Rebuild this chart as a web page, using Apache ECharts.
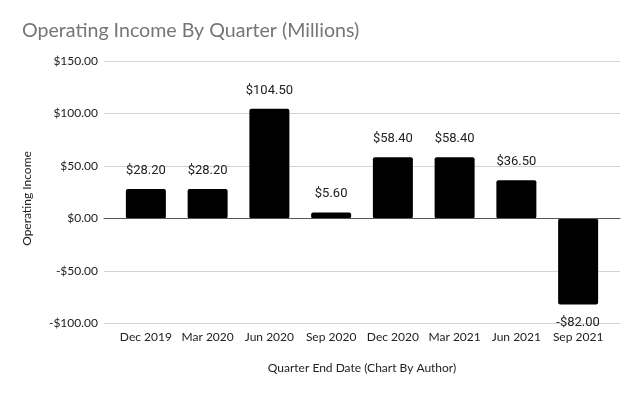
<!DOCTYPE html>
<html>
<head>
<meta charset="utf-8">
<script src="https://cdn.jsdelivr.net/npm/echarts@6/dist/echarts.min.js"></script>
<style>
  html, body { margin: 0; padding: 0; background: #fff; }
  #chart { width: 640px; height: 396px; }
</style>
</head>
<body>
<div id="chart"></div>
<script>
const quarters = ['Dec 2019', 'Mar 2020', 'Jun 2020', 'Sep 2020', 'Dec 2020', 'Mar 2021', 'Jun 2021', 'Sep 2021']
const operatingIncome = [28.2, 28.2, 104.5, 5.6, 58.4, 58.4, 36.5, -82.0]
const yTicks = { min: -100, max: 150, interval: 50 }

const money = (v) => (v < 0 ? '-$' : '$') + Math.abs(v).toFixed(2)

const chart = echarts.init(document.getElementById('chart'))

chart.setOption({
  backgroundColor: '#fff',
  animation: false,
  title: {
    text: 'Operating Income By Quarter (Millions)',
    left: 17,
    top: 16,
    textStyle: { fontFamily: 'Lato', fontSize: 19.6, fontWeight: 'normal', color: '#757575' }
  },
  grid: [
    // wide grid only for gridlines, y labels and zero line
    { left: 104, right: 20, top: 61, bottom: 72.5 },
    // narrower grid holding the bars
    { left: 115, right: 31, top: 61, bottom: 72.5 }
  ],
  xAxis: [
    {
      gridIndex: 0,
      type: 'category',
      data: quarters,
      axisLabel: { show: false },
      axisTick: { show: false },
      axisLine: { show: true, onZero: true, lineStyle: { color: '#555', width: 1 } },
      z: 5
    },
    {
      gridIndex: 1,
      type: 'category',
      data: quarters,
      axisLine: { show: false, onZero: false },
      axisTick: { show: false },
      axisLabel: { interval: 0, margin: 8, fontFamily: 'Lato', fontSize: 12, color: '#222' },
      name: 'Quarter End Date (Chart By Author)',
      nameLocation: 'middle',
      nameGap: 39,
      nameTextStyle: { fontFamily: 'Lato', fontSize: 12, color: '#222' }
    }
  ],
  yAxis: [
    {
      gridIndex: 0,
      type: 'value',
      min: yTicks.min,
      max: yTicks.max,
      interval: yTicks.interval,
      axisLine: { show: false },
      axisTick: { show: false },
      axisLabel: { margin: 6, fontFamily: 'Lato', fontSize: 12, color: '#222', formatter: money },
      splitLine: { lineStyle: { color: '#d4d4d4', width: 1 } }
    },
    {
      gridIndex: 1,
      type: 'value',
      min: yTicks.min,
      max: yTicks.max,
      interval: yTicks.interval,
      show: false
    }
  ],
  graphic: [
    {
      type: 'text',
      x: 27,
      y: 198.5,
      rotation: Math.PI / 2,
      style: {
        text: 'Operating Income',
        fontFamily: 'Lato',
        fontSize: 12,
        fill: '#222',
        align: 'center',
        verticalAlign: 'middle'
      }
    }
  ],
  series: [
    {
      type: 'bar',
      xAxisIndex: 1,
      yAxisIndex: 1,
      barWidth: 40,
      data: operatingIncome.map((v) =>
        v < 0 ? { value: v, label: { position: 'bottom' } } : v
      ),
      itemStyle: { color: '#000', borderRadius: 2 },
      label: {
        show: true,
        position: 'top',
        distance: 12,
        fontFamily: 'Roboto',
        fontSize: 13,
        color: '#222',
        formatter: (p) => money(p.value)
      }
    }
  ]
})
</script>
</body>
</html>
